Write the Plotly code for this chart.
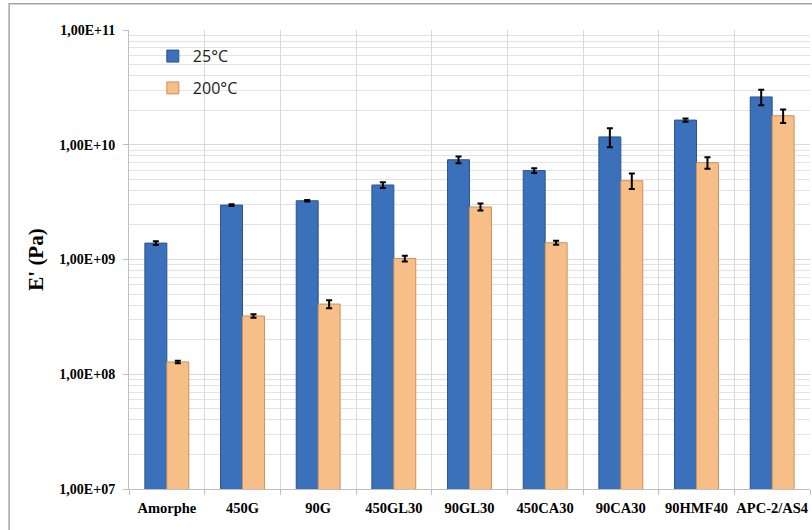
import plotly.graph_objects as go

# storage modulus E' per material, at two temperatures
materials = ["Amorphe", "450G", "90G", "450GL30", "90GL30", "450CA30", "90CA30", "90HMF40", "APC-2/AS4"]
e_25 = [1.39e9, 2.98e9, 3.25e9, 4.46e9, 7.4e9, 5.95e9, 1.17e10, 1.64e10, 2.61e10]
err_25 = [0.05e9, 0.05e9, 0.05e9, 0.26e9, 0.5e9, 0.28e9, 2.2e9, 0.55e9, 0.4e10]
e_200 = [1.28e8, 3.22e8, 4.09e8, 1.02e9, 2.87e9, 1.40e9, 4.86e9, 6.98e9, 1.79e10]
err_200 = [0.03e8, 0.12e8, 0.33e8, 0.06e9, 0.2e9, 0.056e9, 0.75e9, 0.8e9, 0.24e10]

tick_vals = [1e7, 1e8, 1e9, 1e10, 1e11]
tick_text = ["1,00E+07", "1,00E+08", "1,00E+09", "1,00E+10", "1,00E+11"]

serif = "Liberation Serif"
grid = "#d9d9d9"

fig = go.Figure()
fig.add_trace(go.Bar(
    x=materials, y=e_25, name="25°C", legendgroup="a",
    marker=dict(color="#3b70ba", line=dict(color="#2b5391", width=1)),
    error_y=dict(type="data", array=err_25, color="black", thickness=2, width=3),
))
fig.add_trace(go.Bar(
    x=materials, y=e_200, name="200°C", legendgroup="b",
    marker=dict(color="#f8be88", line=dict(color="#c9925f", width=1)),
    error_y=dict(type="data", array=err_200, color="black", thickness=2, width=3),
))

fig.update_layout(
    width=812, height=530,
    margin=dict(l=129, r=2, t=30, b=41),
    paper_bgcolor="white", plot_bgcolor="white",
    barmode="group", bargap=0.42, bargroupgap=0,
    showlegend=True,
    legend=dict(x=0.035, y=0.98, xanchor="left", yanchor="top",
                bgcolor="rgba(0,0,0,0)", tracegroupgap=8, itemwidth=30,
                font=dict(family="Open Sans", size=16, color="#222")),
    xaxis=dict(
        type="category", tickson="boundaries", showgrid=True, gridcolor=grid,
        showline=True, linecolor="#bfbfbf", ticks="outside", ticklen=5, tickcolor="#bfbfbf",
        tickangle=0, automargin=False,
        tickfont=dict(family=serif, size=14.5, color="black", weight="bold"),
        ticklabelstandoff=6,
    ),
    yaxis=dict(
        type="log", range=[7, 11], tickvals=tick_vals, ticktext=tick_text,
        showgrid=True, gridcolor=grid, showline=True, linecolor="#bfbfbf",
        ticks="outside", ticklen=5, tickcolor="#bfbfbf", automargin=False,
        minor=dict(showgrid=True, gridcolor="#e3e3e3", dtick="D1", ticks=""),
        tickfont=dict(family=serif, size=14, color="black", weight="bold"),
        ticklabelstandoff=5,
        title=dict(text="E' (Pa)", standoff=10,
                   font=dict(family=serif, size=21, color="black", weight="bold")),
    ),
    shapes=[dict(type="rect", xref="paper", yref="paper",
                 x0=-0.176, x1=1.02, y0=-0.2, y1=1.057,
                 line=dict(color="#a6a6a6", width=1.5), layer="below")],
)

# drop the browser's default body margin so the figure sits at the page corner
fig.write_html("out.html", config={"displayModeBar": False},
               post_script="document.body.style.margin='0';")
